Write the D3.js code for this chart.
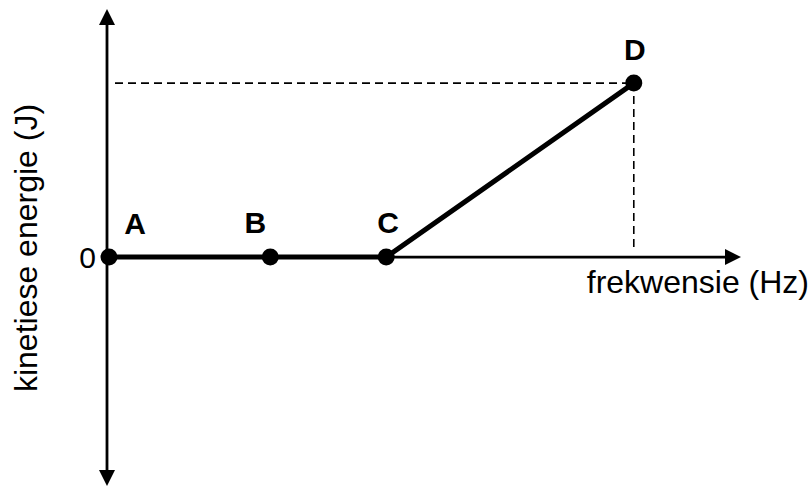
<!DOCTYPE html>
<html><head><meta charset="utf-8">
<script src="https://cdn.jsdelivr.net/npm/d3@7"></script>
<style>body{margin:0;background:#fff}svg{display:block}text{font-family:"Liberation Sans",Arial,sans-serif;fill:#000}</style>
</head><body><svg id="c" width="811" height="487"></svg>
<script>
const labels = ["A","B","C","D"];
const frequency = [0, 2.56, 4.4, 8.33];
const energy = [0, 0, 0, 5];
const yTickLabels = ["0"];
const xTitle = "frekwensie (Hz)";
const yTitle = "kinetiese energie (J)";

const svg = d3.select("#c");
const x = d3.scaleLinear().domain([0,10]).range([109,739]);
const y = d3.scaleLinear().domain([-6.58,7.13]).range([486,9]);
const x0 = 107, y0 = y(0), yTop = y(7.13), yBot = y(-6.58);

// axes
svg.append("line").attr("x1",x0).attr("x2",x0).attr("y1",yTop+14).attr("y2",yBot-14).attr("stroke","#000").attr("stroke-width",2.8);
svg.append("path").attr("d",`M${x0},${yTop} l-8,16 h16 z`);
svg.append("path").attr("d",`M${x0},${yBot} l-8,-16 h16 z`);
svg.append("line").attr("x1",x0).attr("x2",740-14).attr("y1",y0).attr("y2",y0).attr("stroke","#000").attr("stroke-width",2.8);
svg.append("path").attr("d",`M741,${y0} l-16,-8 v16 z`);

// dashed guides to D
const last = labels.length-1;
svg.append("line").attr("x1",x0+8).attr("x2",x(frequency[last])).attr("y1",y(energy[last])).attr("y2",y(energy[last]))
  .attr("stroke","#000").attr("stroke-width",1.6).attr("stroke-dasharray","8,5");
svg.append("line").attr("x1",x(frequency[last])).attr("x2",x(frequency[last])).attr("y1",y(energy[last])).attr("y2",y0-6)
  .attr("stroke","#000").attr("stroke-width",1.6).attr("stroke-dasharray","8,5");

// data line
const pts = frequency.map((f,i)=>({f, e:energy[i], l:labels[i]}));
svg.append("path").datum(pts).attr("d", d3.line().x(d=>x(d.f)).y(d=>y(d.e)))
  .attr("fill","none").attr("stroke","#000").attr("stroke-width",5).attr("stroke-linejoin","round");
svg.selectAll("circle.p").data(pts).join("circle").attr("cx",d=>x(d.f)).attr("cy",d=>y(d.e)).attr("r",8.5).attr("fill","#000");

// point labels
const lblOff = {A:[26,-23],B:[-15,-24],C:[2,-24],D:[1,-23]};
svg.selectAll("text.lbl").data(pts).join("text").attr("class","lbl")
  .attr("x",d=>x(d.f)+lblOff[d.l][0]).attr("y",d=>y(d.e)+lblOff[d.l][1])
  .attr("text-anchor","middle").attr("font-weight","bold").attr("font-size",30).text(d=>d.l);

// tick label
svg.append("text").attr("x",96).attr("y",y0+11).attr("text-anchor","end").attr("font-size",30).text(yTickLabels[0]);

// titles
svg.append("text").attr("x",809).attr("y",y0+36).attr("text-anchor","end").attr("font-size",32).text(xTitle);
svg.append("text").attr("transform",`translate(37,248) rotate(-90)`).attr("text-anchor","middle").attr("font-size",32).text(yTitle);
</script></body></html>
